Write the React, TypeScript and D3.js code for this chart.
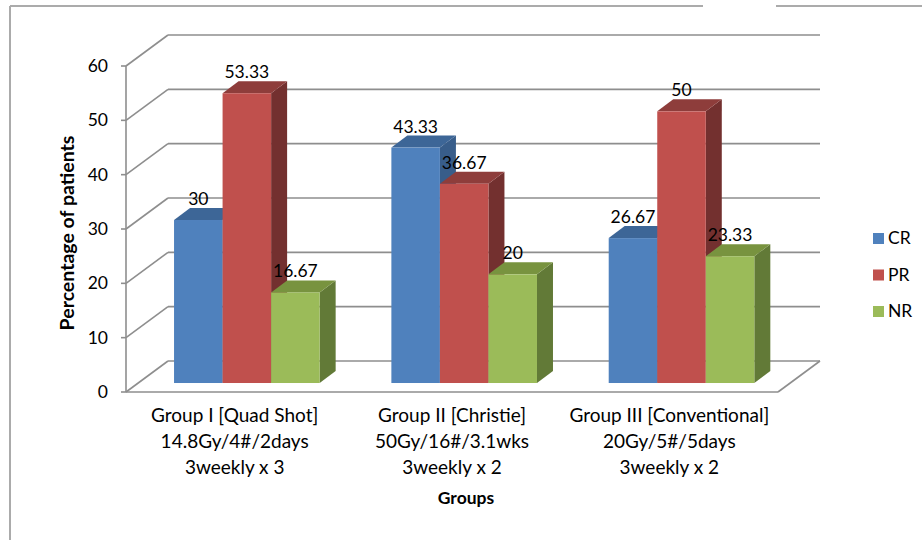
import React from "react";
import * as d3 from "d3";

const categories = [
  ["Group I [Quad Shot]", "14.8Gy/4#/2days", "3weekly x 3"],
  ["Group II [Christie]", "50Gy/16#/3.1wks", "3weekly x 2"],
  ["Group III [Conventional]", "20Gy/5#/5days", "3weekly x 2"],
];
const seriesNames = ["CR", "PR", "NR"];
const crValues = [30, 43.33, 26.67];
const prValues = [53.33, 36.67, 50];
const nrValues = [16.67, 20, 23.33];
const valueLabels = [
  ["30", "43.33", "26.67"],
  ["53.33", "36.67", "50"],
  ["16.67", "20", "23.33"],
];
const yTicks = [0, 10, 20, 30, 40, 50, 60];

const seriesValues = [crValues, prValues, nrValues];
const colors = [
  { front: "#4F81BD", top: "#3D6697", side: "#385D8A" },
  { front: "#C0504D", top: "#8E3D3B", side: "#73302F" },
  { front: "#9BBB59", top: "#78933F", side: "#627A37" },
];

const FONT = "Lato, 'Open Sans', sans-serif";

export default function App() {
  const W = 922, H = 540;
  const fx0 = 126, fx1 = 778;
  const wallDx = 42, wallDy = -31;
  const barFrac = 0.29;
  const bdx = wallDx * barFrac, bdy = wallDy * barFrac;
  const depthDx = 16, depthDy = -12;

  const y = d3.scaleLinear().domain([0, 60]).range([392, 66]);
  const catIdx = categories.map((_, i) => String(i));
  const x = d3
    .scaleBand<string>()
    .domain(catIdx)
    .range([fx0 + bdx, fx1 + bdx])
    .paddingInner(0.33)
    .paddingOuter(0.165);
  const xs = d3
    .scaleBand<string>()
    .domain(seriesNames)
    .range([0, x.bandwidth()])
    .padding(0);

  const gridColor = "#8E8E8E";

  const bars: React.ReactNode[] = [];
  const labels: React.ReactNode[] = [];
  catIdx.forEach((c, ci) => {
    seriesNames.forEach((s, si) => {
      const v = seriesValues[si][ci];
      const x0 = (x(c) as number) + (xs(s) as number);
      const w = xs.bandwidth();
      const yb = y(0) + bdy;
      const yt = y(v) + bdy;
      const col = colors[si];
      const top = `M${x0},${yt} L${x0 + depthDx},${yt + depthDy} L${x0 + w + depthDx},${yt + depthDy} L${x0 + w},${yt} Z`;
      const side = `M${x0 + w},${yt} L${x0 + w + depthDx},${yt + depthDy} L${x0 + w + depthDx},${yb + depthDy} L${x0 + w},${yb} Z`;
      bars.push(
        <g key={`b${ci}-${si}`}>
          <path d={side} fill={col.side} />
          <path d={top} fill={col.top} />
          <rect x={x0} y={yt} width={w} height={yb - yt} fill={col.front} />
        </g>
      );
      labels.push(
        <text
          key={`l${ci}-${si}`}
          x={x0 + w / 2}
          y={yt - 15}
          textAnchor="middle"
          fontSize={17.5}
          fontFamily={FONT}
          fill="#000"
        >
          {valueLabels[si][ci]}
        </text>
      );
    });
  });

  return (
    <svg
      width={W}
      height={H}
      style={{ position: "absolute", left: 0, top: 0, background: "#fff" }}
    >
      <rect x={0} y={0} width={W} height={H} fill="#fff" />
      <line x1={10} y1={6} x2={10} y2={H} stroke="#ABABAB" strokeWidth={2} />
      <line x1={10} y1={6} x2={703} y2={6} stroke="#ABABAB" strokeWidth={2} />
      <line x1={776} y1={6} x2={W} y2={6} stroke="#ABABAB" strokeWidth={2} />

      {yTicks.map((t) => (
        <line
          key={`g${t}`}
          x1={fx0 + wallDx}
          x2={fx1 + wallDx}
          y1={y(t) + wallDy}
          y2={y(t) + wallDy}
          stroke={gridColor}
          strokeWidth={1.6}
        />
      ))}
      {yTicks.map((t) => (
        <line
          key={`d${t}`}
          x1={fx0}
          y1={y(t)}
          x2={fx0 + wallDx}
          y2={y(t) + wallDy}
          stroke={gridColor}
          strokeWidth={1.6}
        />
      ))}
      <line x1={fx0} y1={y(0)} x2={fx1} y2={y(0)} stroke={gridColor} strokeWidth={1.6} />
      <line
        x1={fx1}
        y1={y(0)}
        x2={fx1 + wallDx}
        y2={y(0) + wallDy}
        stroke={gridColor}
        strokeWidth={1.6}
      />
      <line x1={fx0} y1={y(60)} x2={fx0} y2={y(0)} stroke={gridColor} strokeWidth={1.6} />
      {yTicks.map((t) => (
        <g key={`t${t}`}>
          <line x1={fx0 - 5} x2={fx0} y1={y(t)} y2={y(t)} stroke={gridColor} strokeWidth={1.6} />
          <text
            x={108}
            y={y(t)}
            dy="0.35em"
            textAnchor="end"
            fontSize={17.5}
            fontFamily={FONT}
            fill="#000"
          >
            {t}
          </text>
        </g>
      ))}

      {bars}
      {labels}

      {categories.map((lines, ci) => {
        const cx = (x(String(ci)) as number) + x.bandwidth() / 2 - bdx;
        return (
          <text
            key={`c${ci}`}
            x={cx}
            y={422}
            textAnchor="middle"
            fontSize={19}
            fontFamily={FONT}
            fill="#000"
          >
            {lines.map((ln, li) => (
              <tspan key={li} x={cx} dy={li === 0 ? 0 : 26}>
                {ln}
              </tspan>
            ))}
          </text>
        );
      })}

      <text
        x={466}
        y={504}
        textAnchor="middle"
        fontSize={17.5}
        fontWeight="bold"
        fontFamily={FONT}
        fill="#000"
      >
        Groups
      </text>
      <text
        transform={`translate(74,233) rotate(-90)`}
        textAnchor="middle"
        fontSize={19.5}
        fontWeight="bold"
        fontFamily={FONT}
        fill="#000"
      >
        Percentage of patients
      </text>

      {seriesNames.map((s, si) => (
        <g key={`lg${s}`} transform={`translate(873,${238 + si * 36.5})`}>
          <rect x={0} y={-5} width={11} height={11} fill={colors[si].front} />
          <text x={15} y={0} dy="0.35em" fontSize={17.5} fontFamily={FONT} fill="#000">
            {s}
          </text>
        </g>
      ))}
    </svg>
  );
}
